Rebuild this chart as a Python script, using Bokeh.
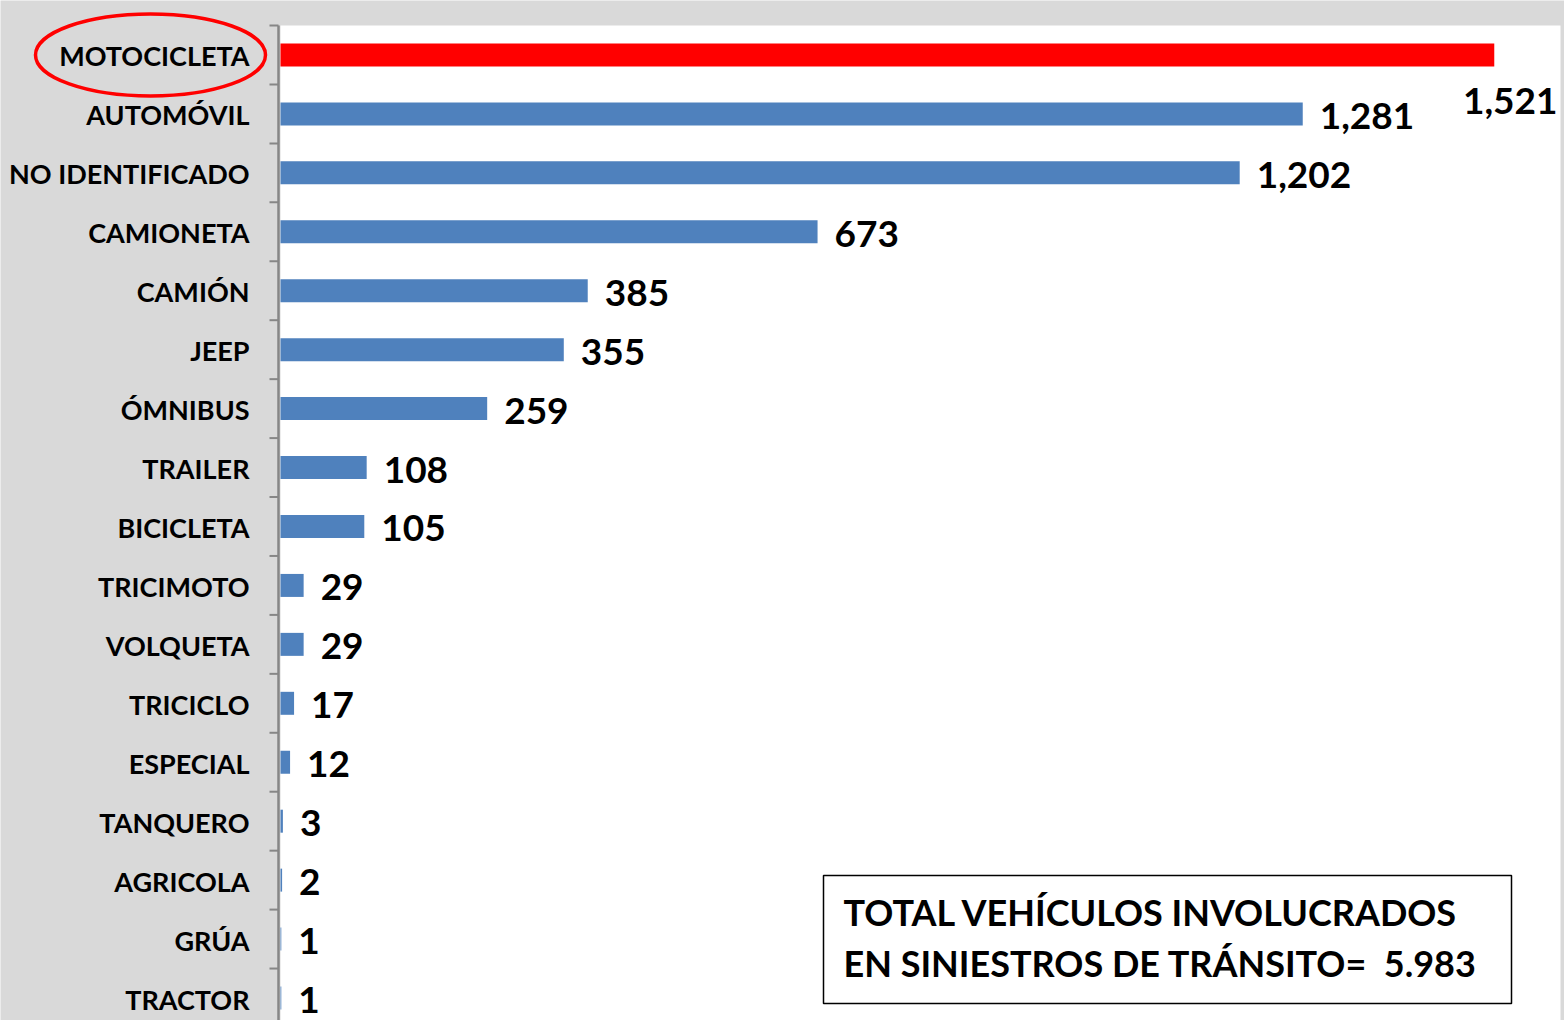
from bokeh.plotting import figure
from bokeh.models import ColumnDataSource, Range1d, BoxAnnotation, Label
from bokeh.embed import file_html
from bokeh.resources import INLINE

# ---------------- data ----------------
categories = ["MOTOCICLETA", "AUTOMÓVIL", "NO IDENTIFICADO", "CAMIONETA", "CAMIÓN",
              "JEEP", "ÓMNIBUS", "TRAILER", "BICICLETA", "TRICIMOTO", "VOLQUETA",
              "TRICICLO", "ESPECIAL", "TANQUERO", "AGRICOLA", "GRÚA", "TRACTOR"]
counts = [1521, 1281, 1202, 673, 385, 355, 259, 108, 105, 29, 29, 17, 12, 3, 2, 1, 1]
highlight = "MOTOCICLETA"
total_lines = ["TOTAL VEHÍCULOS INVOLUCRADOS", "EN SINIESTROS DE TRÁNSITO=\u00a0\u00a05.983"]

# ---------------- layout constants (pixels) ----------------
W, H = 1564, 1020
LEFT, TOP = 280, 25          # plot-area origin on the canvas
FRAME_W = 1280               # plot-area width
XMAX = 1604                  # value at plot-area right edge
BAND = 58.94                 # pixels per category
pxu = FRAME_W / XMAX         # pixels per value unit

FONT = "Lato"
BLUE = "#4f81bd"
RED = "#ff0000"
GRAY_BG = "#d9d9d9"
AXIS_GRAY = "#868686"

n = len(categories)
pos = [i + 0.5 for i in range(n)]
colors = [RED if c == highlight else BLUE for c in categories]
labels = [f"{v:,}" for v in counts]
YEND = (H - TOP) / BAND


def dx(px):
    """pixel distance -> x data distance"""
    return px / pxu


def dy(py):
    """pixel distance -> y data distance"""
    return py / BAND


# label placement: does the value label fit to the right of the bar?
LABEL_W_PX = 17 + 95
fits = [v * pxu + LABEL_W_PX <= FRAME_W for v in counts]

src = ColumnDataSource(dict(y=pos, v=counts, c=colors, cat=categories))
src_in = ColumnDataSource(dict(y=[pos[i] for i in range(n) if fits[i]],
                               v=[counts[i] for i in range(n) if fits[i]],
                               t=[labels[i] for i in range(n) if fits[i]]))
src_out = ColumnDataSource(dict(y=[pos[i] for i in range(n) if not fits[i]],
                                v=[XMAX for i in range(n) if not fits[i]],
                                t=[labels[i] for i in range(n) if not fits[i]]))

p = figure(width=W, height=H,
           x_range=Range1d(-dx(LEFT), dx(W - LEFT)), y_range=Range1d(YEND, -dy(TOP)),
           output_backend="svg", toolbar_location=None,
           min_border=0, x_axis_location=None, y_axis_location=None,
           background_fill_color=GRAY_BG, border_fill_color=GRAY_BG, outline_line_color=None)
p.xgrid.visible = False
p.ygrid.visible = False

# white plot area
p.add_layout(BoxAnnotation(left=0, right=XMAX, top=0, bottom=YEND, fill_color="white",
                           fill_alpha=1.0, line_color=None, level="underlay"))

# category axis: line, boundary ticks, labels
p.segment(x0=-dx(2), y0=0, x1=-dx(2), y1=YEND, line_color=AXIS_GRAY, line_width=2.5)
bounds = list(range(0, n + 1))
p.segment(x0=[-dx(11)] * len(bounds), y0=bounds, x1=[-dx(2)] * len(bounds), y1=bounds,
          line_color=AXIS_GRAY, line_width=2)
p.text(x=0, y="y", text="cat", source=src, x_offset=-31, y_offset=1,
       text_align="right", text_baseline="middle", text_font={"value": FONT},
       text_font_size="27px", text_font_style="bold", text_color="black")

# bars
p.hbar(y="y", left=0, right="v", height=0.39, fill_color="c", line_color=None, source=src)

# value labels
p.text(x="v", y="y", text="t", source=src_in, x_offset=17, y_offset=2,
       text_align="left", text_baseline="middle", text_font={"value": FONT},
       text_font_size="37px", text_font_style="bold", text_color="black")
p.text(x="v", y="y", text="t", source=src_out, x_offset=-3, y_offset=46,
       text_align="right", text_baseline="middle", text_font={"value": FONT},
       text_font_size="37px", text_font_style="bold", text_color="black")

# red ellipse around the highlighted category label
hi = categories.index(highlight)
p.ellipse(x=[-dx(130)], y=[pos[hi]], width=230, height=82,
          width_units="screen", height_units="screen",
          fill_alpha=0, line_color=RED, line_width=3.5)

# total box
p.add_layout(BoxAnnotation(left=dx(823 - LEFT), right=dx(1511 - LEFT),
                           top=dy(875 - TOP), bottom=dy(1003 - TOP),
                           fill_color="white", fill_alpha=1.0, line_color="black",
                           line_width=1.5, line_alpha=1.0))
for k, line in enumerate(total_lines):
    p.add_layout(Label(x=dx(843 - LEFT), y=dy(911 + 51 * k - TOP), text=line, text_font=FONT,
                       text_font_size="36px", text_font_style="bold", text_color="black",
                       text_baseline="middle", text_align="left"))

open("out.html", "w").write(file_html(p, INLINE))
